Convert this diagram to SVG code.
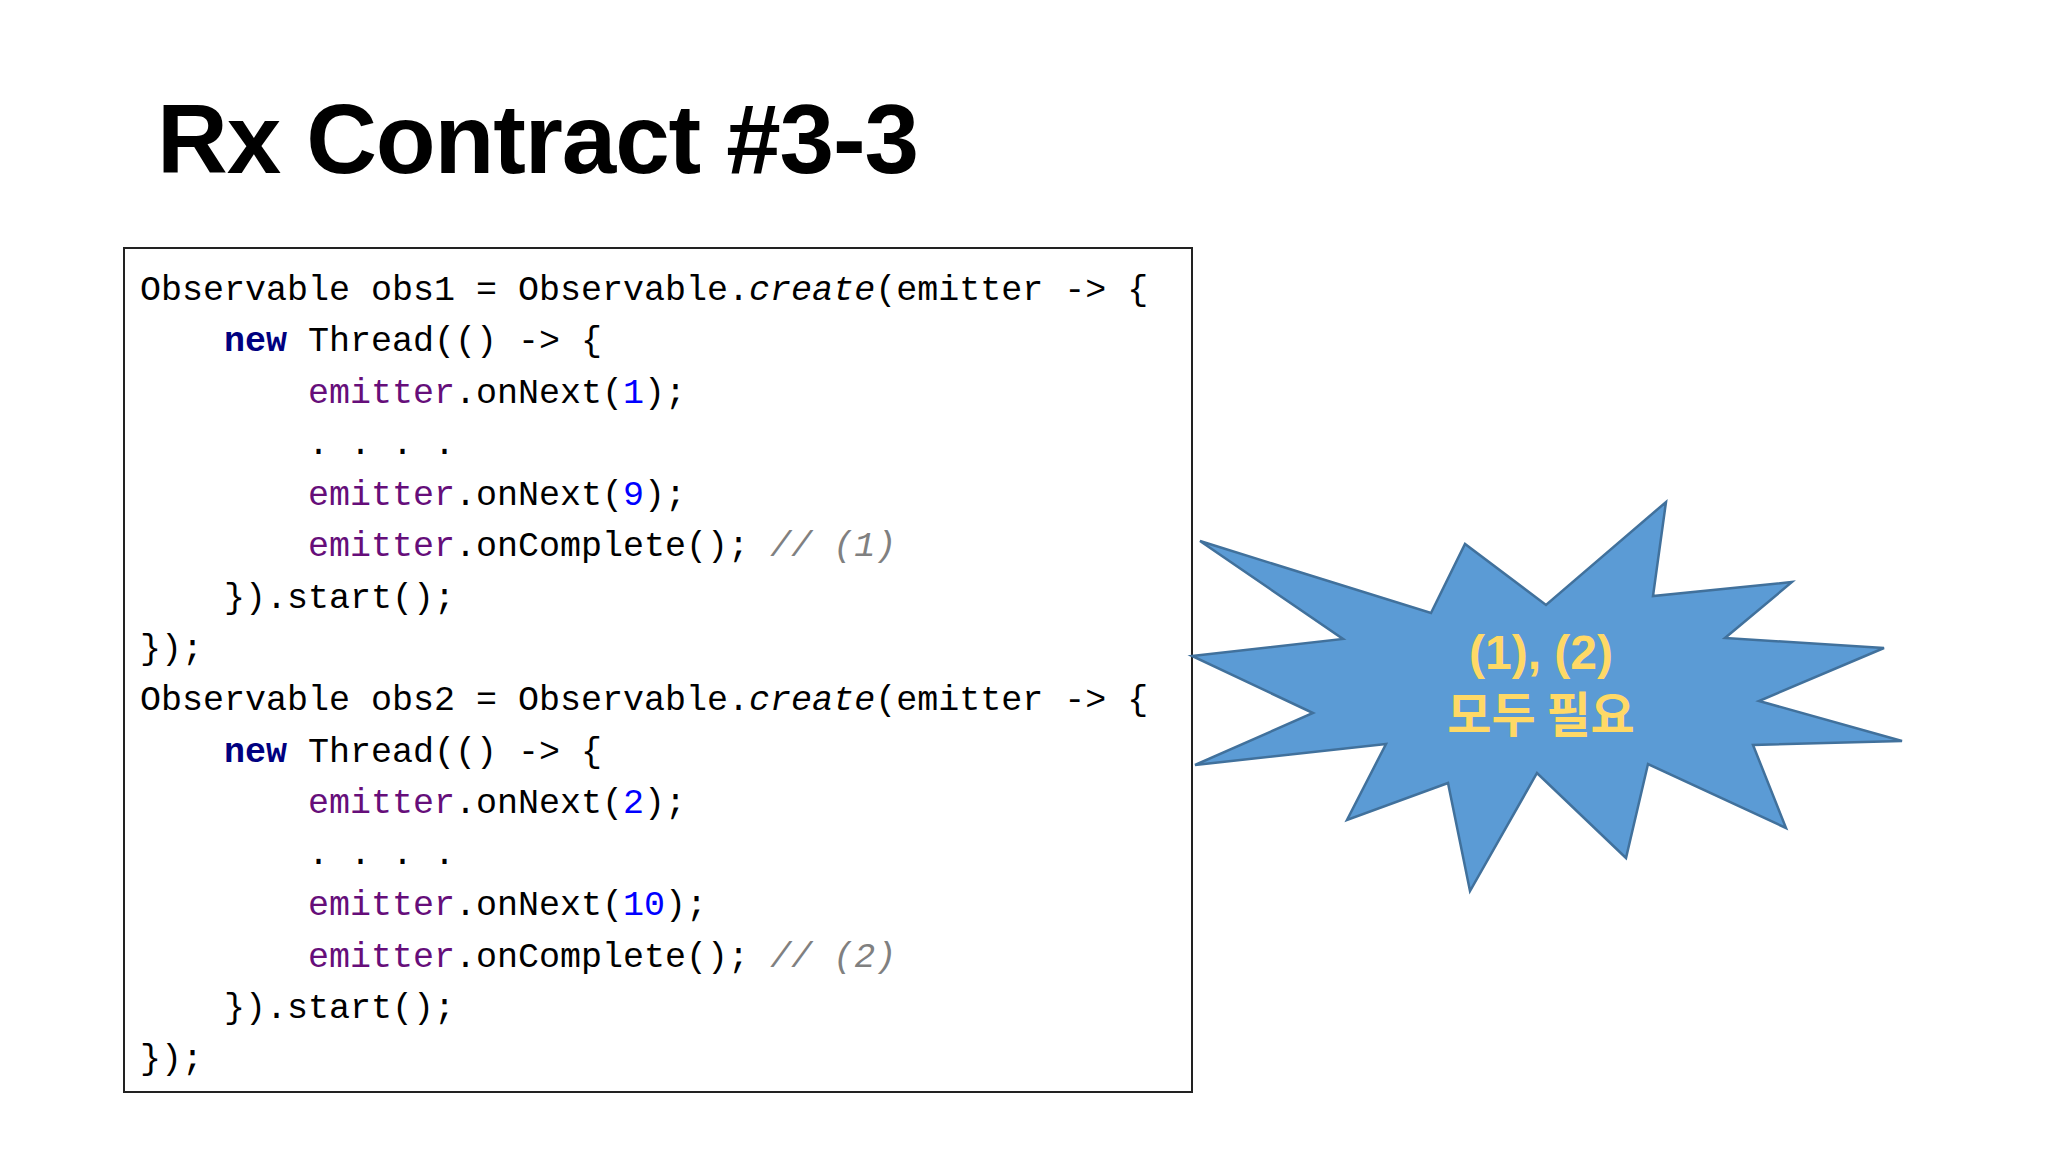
<svg xmlns="http://www.w3.org/2000/svg" width="2048" height="1152" viewBox="0 0 2048 1152">
<style>
.c{font-family:"Liberation Mono",monospace;font-size:35px;fill:#000}
.k{fill:#000080;font-weight:bold}
.e{fill:#660E7A}
.n{fill:#0000FF}
.m{fill:#808080;font-style:italic}
.i{font-style:italic}
</style>
<rect width="2048" height="1152" fill="#fff"/>
<text x="157" y="173" font-family="Liberation Sans, Noto Sans CJK KR, sans-serif" font-weight="bold" font-size="98" textLength="762">Rx Contract #3-3</text>
<g id="code">
<rect x="124" y="248" width="1068" height="844" fill="#fff" stroke="#222" stroke-width="2"/>
<text class="c" xml:space="preserve">
<tspan x="140" y="300">Observable obs1 = Observable.<tspan class="i">create</tspan>(emitter -&gt; {</tspan>
<tspan x="140" y="351">    <tspan class="k">new</tspan> Thread(() -&gt; {</tspan>
<tspan x="140" y="403">        <tspan class="e">emitter</tspan>.onNext(<tspan class="n">1</tspan>);</tspan>
<tspan x="140" y="454">        . . . .</tspan>
<tspan x="140" y="505">        <tspan class="e">emitter</tspan>.onNext(<tspan class="n">9</tspan>);</tspan>
<tspan x="140" y="556">        <tspan class="e">emitter</tspan>.onComplete(); <tspan class="m">// (1)</tspan></tspan>
<tspan x="140" y="608">    }).start();</tspan>
<tspan x="140" y="659">});</tspan>
<tspan x="140" y="710">Observable obs2 = Observable.<tspan class="i">create</tspan>(emitter -&gt; {</tspan>
<tspan x="140" y="762">    <tspan class="k">new</tspan> Thread(() -&gt; {</tspan>
<tspan x="140" y="813">        <tspan class="e">emitter</tspan>.onNext(<tspan class="n">2</tspan>);</tspan>
<tspan x="140" y="864">        . . . .</tspan>
<tspan x="140" y="915">        <tspan class="e">emitter</tspan>.onNext(<tspan class="n">10</tspan>);</tspan>
<tspan x="140" y="967">        <tspan class="e">emitter</tspan>.onComplete(); <tspan class="m">// (2)</tspan></tspan>
<tspan x="140" y="1018">    }).start();</tspan>
<tspan x="140" y="1069">});</tspan>
</text>
</g>
<g id="burst">
<polygon points="1200,541 1431,613 1465,544 1546,605 1666,502 1653,596 1792,582 1725,638 1884,648 1759,701 1902,741 1753,745 1786,828 1648,764 1626,858 1537,773 1470,891 1448,783 1347,820 1386,744 1195,765 1313,713 1192,656 1343,639" fill="#5B9BD5" stroke="#41719C" stroke-width="2.5"/>
<text x="1541" y="669" text-anchor="middle" font-family="Liberation Sans, Noto Sans CJK KR, sans-serif" font-weight="bold" font-size="48" fill="#FFD966">(1), (2)</text>
<text x="1541" y="732" text-anchor="middle" font-family="Noto Sans CJK KR, sans-serif" font-weight="bold" font-size="48" fill="#FFD966">모두 필요</text>
</g>
</svg>
